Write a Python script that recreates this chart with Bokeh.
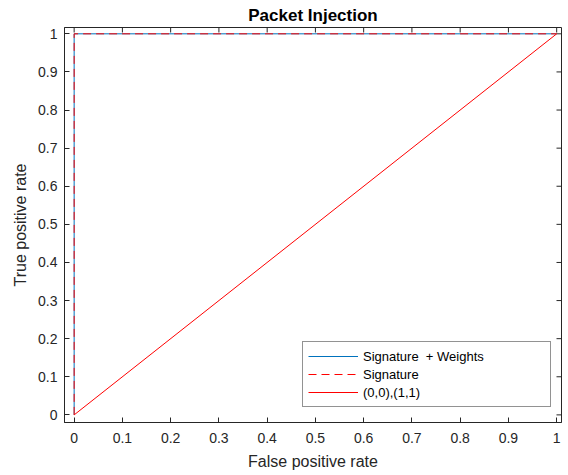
import math
from bokeh.plotting import figure
from bokeh.models import Range1d, FixedTicker, Legend, LegendItem
from bokeh.embed import file_html
from bokeh.resources import INLINE

# ---- data ----
fpr_weights = [0, 0, 1]
tpr_weights = [0, 1, 1]
fpr_signature = [0, 0, 1]
tpr_signature = [0, 1, 1]
fpr_chance = [0, 1]
tpr_chance = [0, 1]
tick_values = [0, 0.1, 0.2, 0.3, 0.4, 0.5, 0.6, 0.7, 0.8, 0.9, 1]
tick_labels = ["0", "0.1", "0.2", "0.3", "0.4", "0.5", "0.6", "0.7", "0.8", "0.9", "1"]
series_names = ["Signature  + Weights", "Signature", "(0,0),(1,1)"]

FONT = "Liberation Sans"
AX = "#262626"

p = figure(width=568, height=475, output_backend="svg", toolbar_location=None,
           x_range=Range1d(-0.02, 1.01), y_range=Range1d(-0.02, 1.0166),
           min_border_left=64, min_border_right=7, min_border_top=27, min_border_bottom=53,
           title="Packet Injection", x_axis_label="False positive rate",
           y_axis_label="True positive rate")
p.background_fill_color = "white"
p.border_fill_color = "white"
p.outline_line_color = AX
p.xgrid.visible = False
p.ygrid.visible = False

p.title.align = "center"
p.title.vertical_align = "middle"
p.title.text_font = FONT
p.title.text_font_size = "17px"
p.title.text_font_style = "bold"
p.title.text_color = "black"
p.title.standoff = 3

overrides = {v: l for v, l in zip(tick_values, tick_labels)}

def style(ax):
    ax.ticker = FixedTicker(ticks=tick_values)
    ax.major_label_overrides = overrides
    ax.axis_line_color = AX
    ax.major_tick_line_color = AX
    ax.major_tick_in = 5
    ax.major_tick_out = 0
    ax.minor_tick_line_color = None
    ax.major_label_text_font = FONT
    ax.major_label_text_color = AX
    ax.major_label_text_font_size = "14px"
    ax.axis_label_text_font = FONT
    ax.axis_label_text_color = AX
    ax.axis_label_text_font_style = "normal"
    ax.axis_label_text_font_size = "16px"

for ax in p.xaxis:
    style(ax)
    ax.major_label_standoff = 10
    ax.axis_label_standoff = 7
for ax in p.yaxis:
    style(ax)
    ax.major_label_standoff = 7
    ax.axis_label_standoff = 6

# box ticks on the top and right edges (half of each dash is clipped by the frame)
x_max = p.x_range.end
y_max = p.y_range.end
p.scatter([x_max] * len(tick_values), tick_values, marker="dash", size=10,
          line_color=AX, line_width=1)
p.scatter(tick_values, [y_max] * len(tick_values), marker="dash", size=10,
          angle=math.pi / 2, line_color=AX, line_width=1)

r1 = p.line(fpr_weights, tpr_weights, line_color="#0072BD", line_width=1)
r2 = p.line(fpr_signature, tpr_signature, line_color="#FF0000", line_width=1, line_dash="8 5")
r3 = p.line(fpr_chance, tpr_chance, line_color="#FF0000", line_width=1)

legend = Legend(items=[LegendItem(label=series_names[0], renderers=[r1]),
                       LegendItem(label=series_names[1], renderers=[r2]),
                       LegendItem(label=series_names[2], renderers=[r3])],
                location=(238, 15), orientation="vertical")
legend.label_text_font = FONT
legend.label_text_font_size = "13px"
legend.label_text_color = "black"
legend.label_height = 18
legend.glyph_height = 18
legend.glyph_width = 50
legend.label_standoff = 5
legend.label_width = 182
legend.padding = 5
legend.spacing = 0
legend.margin = 0
legend.border_line_color = AX
legend.border_line_width = 1
legend.background_fill_color = "white"
legend.background_fill_alpha = 1
p.add_layout(legend, "center")

open("out.html", "w").write(file_html(p, INLINE))
